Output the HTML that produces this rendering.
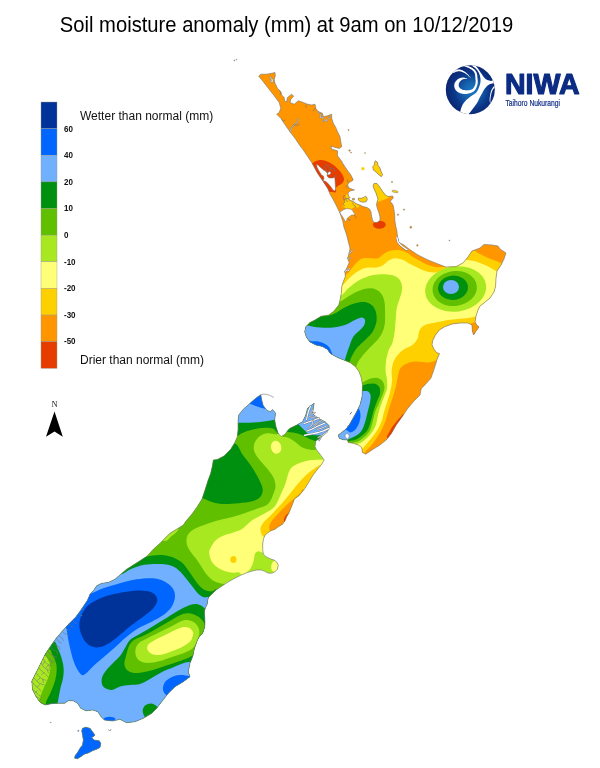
<!DOCTYPE html>
<html lang="en">
<head>
<meta charset="utf-8">
<title>Soil moisture anomaly (mm) at 9am on 10/12/2019</title>
<style>
html,body{margin:0;padding:0;background:#fff;}
body{width:600px;height:768px;overflow:hidden;font-family:"Liberation Sans",sans-serif;}
svg{display:block;}
text{font-family:"Liberation Sans",sans-serif;}
.lg{font-size:9.1px;font-weight:bold;fill:#111;}
.lt{font-size:12px;fill:#111;}
</style>
</head>
<body>
<svg width="600" height="768" viewBox="0 0 600 768">
<rect width="600" height="768" fill="#fff"/>
<!-- title -->
<text transform="translate(59.8,32.2) scale(0.9445,1)" font-size="21.4" fill="#000">Soil moisture anomaly (mm) at 9am on 10/12/2019</text>

<!-- legend -->
<g stroke="#9a9a88" stroke-width="0.4">
<rect x="41" y="102" width="16" height="26.63" fill="#003399"/>
<rect x="41" y="128.63" width="16" height="26.63" fill="#0066ff"/>
<rect x="41" y="155.26" width="16" height="26.63" fill="#70b0ff"/>
<rect x="41" y="181.89" width="16" height="26.63" fill="#009010"/>
<rect x="41" y="208.52" width="16" height="26.63" fill="#60c000"/>
<rect x="41" y="235.15" width="16" height="26.63" fill="#a8e820"/>
<rect x="41" y="261.78" width="16" height="26.63" fill="#ffff78"/>
<rect x="41" y="288.41" width="16" height="26.63" fill="#ffd000"/>
<rect x="41" y="315.04" width="16" height="26.63" fill="#ff9600"/>
<rect x="41" y="341.67" width="16" height="26.63" fill="#e63c00"/>
</g>
<text class="lg" transform="translate(64,131.5) scale(0.88,1)">60</text>
<text class="lg" transform="translate(64,158.1) scale(0.88,1)">40</text>
<text class="lg" transform="translate(64,184.70000000000002) scale(0.88,1)">20</text>
<text class="lg" transform="translate(64,211.3) scale(0.88,1)">10</text>
<text class="lg" transform="translate(64,237.9) scale(0.88,1)">0</text>
<text class="lg" transform="translate(64,264.59999999999997) scale(0.88,1)">-10</text>
<text class="lg" transform="translate(64,291.2) scale(0.88,1)">-20</text>
<text class="lg" transform="translate(64,317.79999999999995) scale(0.88,1)">-30</text>
<text class="lg" transform="translate(64,344.4) scale(0.88,1)">-50</text>
<text class="lt" x="80" y="120.3">Wetter than normal (mm)</text>
<text class="lt" x="80" y="363.6">Drier than normal (mm)</text>

<!-- north arrow -->
<text x="54.5" y="406.8" font-size="8.5" text-anchor="middle" fill="#222" style="font-family:'Liberation Serif',serif">N</text>
<path d="M54.5,411.5 L62.8,436.8 L54.5,431.5 L46,436.8Z" fill="#000"/>

<!-- NIWA logo -->
<defs>
<radialGradient id="lg1" cx="0.53" cy="0.52" r="0.52">
<stop offset="0" stop-color="#1a7ac8"/>
<stop offset="0.35" stop-color="#1560ac"/>
<stop offset="0.7" stop-color="#0c3688"/>
<stop offset="1" stop-color="#0a2670"/>
</radialGradient>
</defs>
<g id="logo">
<clipPath id="lc"><circle cx="470.3" cy="89.7" r="24.5"/></clipPath>
<circle cx="470.3" cy="89.7" r="24.5" fill="url(#lg1)"/>
<g clip-path="url(#lc)" fill="#fff">
<path d="M467.22,78.45 466.77,78.3 466.15,78.1 465.4,77.9 464.57,77.73 463.7,77.62 462.85,77.61 462.02,77.69 461.17,77.84 460.31,78.07 459.46,78.37 458.62,78.75 457.83,79.21 457.11,79.79 456.45,80.46 455.83,81.19 455.29,81.98 454.82,82.82 454.45,83.72 454.29,84.65 454.23,85.59 454.29,86.55 454.47,87.52 454.78,88.48 455.24,89.4 455.85,90.2 456.54,90.95 457.34,91.64 458.22,92.26 459.19,92.81 460.24,93.26 461.36,93.55 462.53,93.76 463.74,93.89 464.97,93.93 466.17,93.9 467.33,93.8 468.45,93.6 469.58,93.33 470.69,92.98 471.75,92.56 472.74,92.06 473.63,91.48 474.42,90.8 475.05,90.03 475.56,89.24 475.96,88.44 476.3,87.68 476.6,86.95 476.91,86.22 477.17,85.46 477.38,84.69 477.54,83.92 477.66,83.16 477.75,82.39 477.78,81.6 477.76,80.81 477.69,80.05 477.61,79.31 477.52,78.6 477.45,77.9 477.38,77.2 477.33,76.46 477.27,75.7 477.19,74.92 477.05,74.15 476.86,73.41 476.6,72.72 476.3,72.08 475.95,71.48 475.57,70.91 475.15,70.37 474.7,69.85 474.19,69.36 473.64,68.89 473.06,68.45 472.46,68.05 471.85,67.67 471.24,67.32 470.61,66.99 469.96,66.7 469.3,66.43 468.65,66.19 468,65.96 467.37,65.75 466.7,65.53 465.98,65.32 465.28,65.13 464.63,64.96 464.09,64.83 463.7,64.73 463.3,66.07 463.69,66.2 464.23,66.37 464.86,66.57 465.53,66.79 466.21,67.02 466.83,67.25 467.43,67.49 468.04,67.74 468.65,68 469.24,68.28 469.81,68.57 470.36,68.88 470.9,69.22 471.44,69.57 471.97,69.95 472.46,70.33 472.9,70.73 473.3,71.15 473.66,71.58 473.99,72.02 474.28,72.49 474.54,72.96 474.76,73.47 474.94,73.99 475.08,74.56 475.17,75.18 475.23,75.87 475.27,76.59 475.31,77.34 475.35,78.1 475.43,78.84 475.52,79.56 475.61,80.26 475.66,80.94 475.68,81.58 475.65,82.21 475.57,82.86 475.45,83.51 475.3,84.16 475.11,84.8 474.88,85.42 474.6,86.05 474.25,86.7 473.9,87.36 473.52,87.97 473.11,88.51 472.67,88.96 472.17,89.32 471.52,89.62 470.73,89.88 469.85,90.1 468.92,90.27 467.98,90.37 467.07,90.4 466.16,90.37 465.2,90.27 464.22,90.11 463.28,89.9 462.44,89.64 461.76,89.34 461.19,89.04 460.65,88.68 460.16,88.26 459.74,87.82 459.4,87.39 459.16,87 458.98,86.69 458.84,86.33 458.75,85.94 458.7,85.51 458.7,85.08 458.75,84.68 458.77,84.25 458.88,83.73 459.08,83.16 459.34,82.6 459.65,82.06 459.97,81.59 460.33,81.13 460.8,80.67 461.35,80.23 461.94,79.83 462.56,79.48 463.15,79.19 463.78,79 464.52,78.89 465.31,78.85 466.06,78.83 466.71,78.81 467.18,78.75Z"/>
<path d="M452.62,73.32 453.13,73.1 453.84,72.78 454.65,72.43 455.5,72.08 456.31,71.79 457,71.58 457.61,71.46 458.19,71.37 458.75,71.32 459.3,71.32 459.85,71.35 460.42,71.43 461.01,71.55 461.61,71.71 462.23,71.93 462.86,72.18 463.47,72.46 464.07,72.76 464.64,73.07 465.21,73.43 465.77,73.81 466.33,74.22 466.88,74.65 467.43,75.09 468,75.58 468.61,76.15 469.22,76.73 469.78,77.28 470.27,77.75 470.63,78.07 470.77,77.93 470.49,77.54 470.08,77.01 469.59,76.39 469.05,75.74 468.5,75.09 467.97,74.51 467.47,73.99 466.96,73.48 466.43,72.99 465.89,72.52 465.32,72.06 464.73,71.64 464.12,71.26 463.49,70.89 462.83,70.55 462.16,70.24 461.47,69.98 460.78,69.77 460.1,69.62 459.43,69.52 458.75,69.47 458.06,69.47 457.35,69.52 456.6,69.62 455.74,69.8 454.81,70.07 453.88,70.37 453.01,70.67 452.29,70.92 451.78,71.08Z"/>
<path d="M460.3,114.5C459.4,113.02 461.12,108.4 462,106.1C462.88,103.8 464.1,102.35 465.6,100.7C467.1,99.05 469.15,97.67 471,96.2C472.85,94.73 475.32,93.52 476.7,91.9C478.08,90.28 478.68,88.1 479.3,86.5C479.92,84.9 480.23,83.8 480.4,82.3C480.57,80.8 480.57,79.1 480.3,77.5C480.03,75.9 479.5,74.13 478.8,72.7C478.1,71.27 477.17,70.02 476.1,68.9C475.03,67.78 472.98,66.9 472.4,66C471.82,65.1 472.12,63.58 472.6,63.5C473.08,63.42 474.35,64.6 475.3,65.5C476.25,66.4 477.27,67.53 478.3,68.9C479.33,70.27 480.53,72.27 481.5,73.7C482.47,75.13 483.13,76.43 484.1,77.5C485.07,78.57 486.13,79.53 487.3,80.1C488.47,80.67 490.05,80.92 491.1,80.9C492.15,80.88 492.62,79.98 493.6,80C494.58,80.02 496.43,80.43 497,81C497.57,81.57 497.55,83.02 497,83.4C496.45,83.78 495.13,83.05 493.7,83.3C492.27,83.55 489.9,84 488.4,84.9C486.9,85.8 485.77,87.27 484.7,88.7C483.63,90.13 482.87,91.95 482,93.5C481.13,95.05 480.28,96.5 479.5,98C478.72,99.5 478.42,100.7 477.3,102.5C476.18,104.3 474.45,106.72 472.8,108.8C471.15,110.88 469.48,114.05 467.4,115C465.32,115.95 461.2,115.98 460.3,114.5Z"/>
<path d="M494.93,85.01 494.59,85.45 494.08,86.06 493.48,86.78 492.85,87.58 492.26,88.4 491.78,89.2 491.41,89.97 491.12,90.73 490.88,91.49 490.67,92.27 490.49,93.06 490.31,93.89 490.14,94.77 489.98,95.7 489.84,96.65 489.72,97.62 489.64,98.57 489.6,99.49 489.65,100.43 489.76,101.41 489.9,102.37 490.05,103.25 490.19,103.98 490.3,104.51 490.5,104.49 490.49,103.94 490.45,103.2 490.4,102.32 490.36,101.37 490.35,100.41 490.4,99.51 490.47,98.64 490.58,97.72 490.73,96.79 490.9,95.86 491.09,94.96 491.29,94.11 491.49,93.31 491.7,92.55 491.92,91.82 492.18,91.13 492.47,90.45 492.82,89.8 493.28,89.12 493.87,88.39 494.51,87.66 495.13,86.98 495.68,86.41 496.07,85.99Z"/>
</g>
</g>
<text x="505" y="94" font-size="29.7" font-weight="bold" fill="#0c2c84" textLength="74.5" lengthAdjust="spacingAndGlyphs" stroke="#0c2c84" stroke-width="1.2" stroke-linejoin="round">NIWA</text>
<text x="505.5" y="105.6" font-size="9.3" fill="#0c2c84" textLength="54.5" lengthAdjust="spacingAndGlyphs" stroke="#0c2c84" stroke-width="0.2">Taihoro Nukurangi</text>

<!-- map -->
<defs><clipPath id="land"><path d="M258.7,76.2 260.8,74.2 266.7,74.2 271.7,73.3 275,72.5 275.3,75.8 274.2,79.2 275,83.3 277.5,88.3 280.8,91.7 281.7,95 284.2,97.5 284.5,101 286.5,102 287.5,97.5 291.7,94.2 293.7,96.3 290.8,99.2 290,102.5 294.2,104.2 298.3,100.8 303.3,102.5 307.5,104.2 311.7,105 315,104.2 315.8,108.3 318.3,111.7 322.5,113.3 323.3,116.7 327.5,115.8 331.7,114.2 331.7,118.3 333.3,123.3 335.8,127.5 337.5,131.7 340,136.7 340.8,141.7 341.7,146.7 339.2,148.5 331,146.2 331.5,149 337.5,150.8 337.5,155.8 341.3,160.7 342.7,163.3 345.3,167.3 348,171.3 350.7,174.7 352,177.3 353.3,180 352,181 349,182.5 347.5,185 349,188 353,189.5 354.5,189.9 350,191 348,193 348.5,196 350,197.5 348.8,198.8 350,200.3 352,201 354,202 357,204 360,205 363,206.5 365,207 367,207.5 369.5,209 371,212 371.5,216 372.5,220 374,222.5 377,222.5 380,220.5 380,217 379,213 377.5,209 376.5,205 377,202 378,199 377,196 376,193 374.5,190 373,186 374,183.5 377,183.5 379,186 381,189 383,192 385.5,195 388,196.5 392.7,196 393.3,198 391.3,200 390,202 392,203.3 393.3,206 394,210 394.7,215.3 394.9,220.7 395.7,226 396.7,230 397.5,236.2 398.8,242.5 404,245 409,249 418,255 428,260 438,264 446,267 456,266.6 463,263 468,257 472,251 480,248 484,244.4 492,245 498,246 500,249 506,253 504,259 501,265 497,271 496,278 495.6,286 494,292 490,298 484,303 480,306 478,310 476,316 475,322 477,325.6 479,327 476,331 473.6,335 472.4,331 472,325 468,323 460,323 452,324 444.7,326.7 439.3,330 435.3,335.3 432.7,340.7 432,344.7 434,349.3 436.7,352.7 439.5,353.6 437.3,358.7 435.3,365.3 432.7,373.3 430.7,378.5 426.2,383.5 421.2,388.8 420,395 413.8,401.2 407.5,408.8 402.5,416.2 396.2,425 391.2,433.8 386.2,440 380,445 373.8,448.8 367.5,453 365.8,454.2 362.5,452.5 361.7,447.5 358.3,445 353.3,443.3 348.3,442.5 347.5,440 343.3,439.7 339.2,438.3 338.3,435 341.7,432.5 345.8,429.2 349.2,425 352.5,419.2 356.7,411.7 360,405 362,396.7 362.3,392 362.5,385 361.2,377.5 358.8,371.2 355,366.2 350,362.5 343.8,360 337.5,357.5 330.3,353.5 327.5,349.4 322.5,346.5 315.8,344.9 310,341.9 306.3,336.9 304.7,331.7 305.8,326.7 310,322.5 315,320 321.2,316.2 328.8,315 333.8,311.2 338.8,305 340,300 341.3,293.3 341.7,286.7 343.3,281.7 345.3,276.7 345,271.7 346.7,268.3 349.2,262.5 347.5,258.3 349.2,253.3 350,248.3 348.3,241.7 346.7,235 343.8,226.7 343,222 341,216 339.5,212 337.5,208 334,201 330,194 328,189 323.3,181.7 317.5,173.3 311.7,162.5 303.3,150 300,145.8 295,138.3 290,131.7 285.8,125.8 280.8,118.3 276.7,114.2 279.2,112.5 280.8,108.3 279.2,102.5 274.2,95.8 268.3,88.3 263.3,81.7Z M260.8,394.7 261.7,400 263.3,405.8 266.7,410 270,411.7 272.7,409.5 275.5,413.3 274.7,420 276,426.7 278.1,433.3 281.3,436.5 285,434.2 287.5,430.8 290,428.3 296.7,425 302.5,421.7 305.8,415 307.5,408.3 311.7,405 314.2,403.3 313.3,408.3 312.5,413.3 315.8,416.7 320,419.2 325,421.7 329.2,425.8 328.3,430 324.2,434.2 320,438.3 315.8,440.8 315,446.7 316.7,450 320,454.2 324.2,460 321.7,464.2 318.3,468.3 313.3,474.7 309.3,481.3 305,488.3 301.7,492.5 299.2,495.4 294.2,499.2 292.9,503.3 290.8,508.3 288.8,513.3 286.7,516.7 285,520.8 282.5,524.2 278.3,526.7 275,529.2 270.8,530.8 267.5,532.9 265,535.4 263.5,538.7 262.7,544 262.7,549.3 263.3,554 266,556.7 270,558.7 274,560 276.7,562 278.3,565.3 277.3,569.3 274.7,572 271.3,573.3 268,573.1 264.7,571.3 261.3,570 256.7,570 251.3,571.3 246,573.1 240.7,575.3 235.3,578 228,582 219,588 216,590 212,594 208.7,597.3 207.7,600 207.3,604 205.3,608 204.3,612 204.7,616.7 205,622 204.7,627.3 202.7,633.3 199.3,636.7 197.5,640 194.5,648 193,655.5 190,663.3 188.3,671.7 190,676.7 183.3,681.7 175,686.7 168.3,693.3 161.7,701.7 156.7,708.3 151.7,713.3 143.3,718.3 135,721.7 126.7,722.7 124.8,721.8 119.8,719.3 113,721 104.5,720.1 101.1,716.8 97.8,711.7 92.7,710 85.9,710.8 80.8,708.3 77.5,703.2 73.2,700.7 68.1,700.7 64.8,703.2 58.8,703.2 52.1,703.6 45.3,704.9 40.2,702.4 36,696.4 32.6,689.7 31.8,681.2 36,672.8 41.1,662.6 45.3,654.1 50.4,646.5 56.3,638.1 62.2,631.3 69,623.7 75.8,616.9 80.8,610.2 87.6,600 90,594.2 93.3,590.8 96.7,585.8 101.7,583.3 108.3,582.5 115,579.2 120.8,574.2 126.7,569.2 133.3,565 140,560.8 147.5,555.8 153.3,549.2 160,543.3 165,538.3 170,533.3 176.7,529.2 183.3,525 186,521 192,514 197,507 202,499 205,490 208,480.5 210.7,473.3 212.5,465.3 213.3,460 217.3,459.5 224,456 230.7,449.3 234.7,442.7 237.3,436.7 238,430 238,421.7 238.7,415 243.3,409.2 250,403.3 256.7,397.5Z M82.5,728.3 85.8,727.2 90,728.3 92.5,731.7 95,735 93.5,736.5 91.7,737.5 94.2,740 99.2,740.8 100.8,743.3 100,747.5 96.7,749.2 92.5,750.8 88.3,753 84.2,754.2 80.8,756.7 77.5,758.7 74.7,758.3 75,755.8 77.5,752.5 80,748.3 82.5,745 83.3,740 82.5,735 81.7,730.8Z M375.3,160.7 377.3,162 378,165.3 380,168 381.3,172 382.7,174.7 381.3,176.7 378.7,174.7 376,172 373.3,170 372.7,166.7 374.4,164.7 374.7,162ZM358.5,198 361,198.3 363.5,197.5 365.5,196.3 367,197.5 367.2,200 366,201.8 363,202.2 360,201.5 358.3,200ZM352.3,198.6 354.3,198.3 354.6,199.8 352.8,200.2Z"/></clipPath></defs>
<g clip-path="url(#land)">
<path fill="#ff9600" d="M250,60 520,60 520,460 330,460 330,300 250,300Z"/>
<path fill="#ffd000" d="M335,277C343.5,269.5 343,276.4 345.8,275C348.6,273.6 349.8,270.5 351.7,268.3C353.6,266.1 355.6,263.4 357.5,261.7C359.4,260 360.9,258.9 363.3,258.3C365.7,257.7 369.2,258.3 371.7,258.3C374.2,258.3 376.4,259 378.3,258.3C380.2,257.6 381.4,255.4 383.3,254.2C385.2,252.9 387.5,251.5 390,250.8C392.5,250.1 395.5,249.7 398.3,250C401.1,250.3 404.4,251.4 406.7,252.5C409,253.6 410.1,255.2 412,256.5C413.9,257.8 415.9,258.7 418.3,260C420.8,261.3 423.9,263.3 426.7,264.5C429.5,265.7 432.4,266.6 435,267C437.6,267.4 440.5,267.2 442.5,267C444.5,266.8 444.9,266.3 447,265.5C449.1,264.7 452.5,263.6 455,262C457.5,260.4 459.5,258.1 462,256C464.5,253.9 468.2,250.5 470,249.5C471.8,248.5 471.3,249.2 473,250C474.7,250.8 477.5,252.7 480,254C482.5,255.3 485.3,256.8 488,258C490.7,259.2 493.5,260.1 496,261C498.5,261.9 499,262.3 503,263.5C507,264.7 517.2,256.9 520,268C522.8,279.1 528.3,317.2 520,330C511.7,342.8 482,340.5 470,345C458,349.5 452.8,354.6 448,357C443.2,359.4 443,358.9 441,359.5C439,360.1 438.4,359.9 436.2,360.4C434.1,360.9 431,362.3 427.9,362.5C424.8,362.7 420.6,361.5 417.5,361.5C414.4,361.5 412,361.5 409.2,362.5C406.4,363.5 402.7,365.4 400.8,367.7C398.9,369.9 398.8,372.8 398,376C397.2,379.2 396.6,383.5 395.8,386.7C395.1,389.9 394.3,392.2 393.5,395C392.7,397.8 391.7,400.5 390.8,403.3C389.9,406.1 388.8,409.2 388,412C387.2,414.8 386.8,417.2 385.8,420C384.8,422.8 383.4,426.2 382,429C380.6,431.8 379.2,434 377.5,436.7C375.8,439.4 373.6,442.6 371.7,445C369.8,447.4 368.3,448.6 366,450.8C363.7,453 364,456.5 358,458C352,459.5 339.7,469.7 330,460C320.3,450.3 305.8,423.3 300,400C294.2,376.7 289.2,340.5 295,320C300.8,299.5 326.5,284.5 335,277Z"/>
<path fill="#ffff78" d="M333,287C340.9,281.2 339.9,286.3 342.5,285C345.1,283.7 346.2,281.1 348.3,279.2C350.4,277.2 352.8,275 355,273.3C357.2,271.6 359.5,270.2 361.7,269.2C363.9,268.2 365.8,267.8 368.3,267.5C370.8,267.2 374.2,267.9 376.7,267.5C379.2,267.1 381.4,266.1 383.3,265C385.2,263.9 386.4,261.9 388.3,260.8C390.2,259.7 392.5,258.4 395,258.3C397.5,258.2 400.6,259 403.3,260C406,261 408.5,263.2 411,264.5C413.5,265.8 415.7,266.8 418.3,268C420.9,269.2 423.9,270.8 426.7,271.5C429.5,272.2 432.6,272.6 435,272.5C437.4,272.4 439.1,271.8 441,271C442.9,270.2 444.2,269.6 446.5,267.6C448.8,265.6 451.6,260.3 455,259C458.4,257.7 463.8,259.7 467,260C470.2,260.3 471.5,260.4 474,261C476.5,261.6 479.3,262.7 482,263.8C484.7,264.9 487.4,266.2 490,267.5C492.6,268.8 494.2,270.3 497.5,271.7C500.8,273.1 507.1,271.3 510,276C512.9,280.7 518.3,293.7 515,300C511.7,306.3 496.6,311.3 490,314C483.4,316.7 479.3,315.7 475.6,316.4C471.9,317.1 470.9,317.6 468,318C465.1,318.4 461.3,318.7 458,319C454.7,319.3 451.3,319.5 448,320C444.7,320.5 441.3,321.3 438,322C434.7,322.7 430.7,323.2 428,324C425.3,324.8 423.5,325.7 422,327C420.5,328.3 419.8,330 419,332C418.2,334 418.6,336.6 417.5,338.8C416.4,340.9 414.6,343.3 412.5,345C410.4,346.7 407.3,347.3 405,348.8C402.7,350.2 400.6,351.7 398.8,353.8C396.9,355.8 394.9,358.5 393.8,361.2C392.6,364 392,366.9 391.7,370C391.4,373.1 392.1,377 392,380C391.9,383 391.5,385.3 391,388C390.5,390.7 389.7,393.4 389,396C388.3,398.6 387.5,400.6 386.7,403.3C385.9,406 384.8,409.2 384,412C383.2,414.8 383,417.2 382,420C381,422.8 379.6,426.2 378,429C376.4,431.8 374.4,434.2 372.5,436.7C370.6,439.2 368.2,442 366.5,444C364.8,446 364.6,446.5 362.5,448.5C360.4,450.5 359.4,454.9 354,456C348.6,457.1 339,464.3 330,455C321,445.7 305.8,422.5 300,400C294.2,377.5 289.5,338.8 295,320C300.5,301.2 325.1,292.8 333,287Z"/>
<path fill="#a8e820" d="M332,297C339.8,292.8 339,296.4 341.7,295C344.4,293.6 345.8,290.5 348.3,288.3C350.8,286.1 353.9,283.5 356.7,281.7C359.5,279.9 362.2,278.6 365,277.5C367.8,276.4 370.2,275.6 373.3,275C376.4,274.4 380.2,274.2 383.3,274.2C386.4,274.2 389.2,274.3 391.7,275C394.2,275.7 396.6,276.8 398.3,278.3C400,279.8 401.1,282 401.7,284.2C402.3,286.4 402.1,289.1 401.7,291.7C401.3,294.3 400,297.2 399.2,300C398.4,302.8 397.3,305.2 396.7,308.3C396.1,311.4 396.1,315 395.8,318.3C395.5,321.6 395.3,325.4 395,328.3C394.7,331.2 394.5,333.4 394,336C393.5,338.6 392.9,341.7 392,344C391.1,346.3 389.7,347.3 388.8,350C387.8,352.7 386.8,356.7 386.2,360C385.7,363.3 385.4,366.7 385.5,370C385.6,373.3 386.8,376.9 387,380C387.2,383.1 387.5,385.8 387,388.8C386.5,391.7 384.8,394.6 383.8,397.5C382.7,400.4 381.5,403.3 380.5,406.2C379.5,409.2 378.8,411.9 378,415C377.2,418.1 376.8,422.1 375.8,425C374.8,427.9 373.4,430.2 371.8,432.5C370.2,434.8 368,437.1 366.2,438.8C364.5,440.4 362.8,441.5 361.2,442.5C359.7,443.5 358.9,442.9 357,444.5C355.1,446.1 355.3,451.1 350,452C344.7,452.9 333.3,458.7 325,450C316.7,441.3 305,421.7 300,400C295,378.3 289.7,337.2 295,320C300.3,302.8 324.2,301.2 332,297Z"/>
<ellipse cx="455.7" cy="289" rx="30.7" ry="22.6" fill="#a8e820" transform="rotate(-8 455.7 289)"/>
<path fill="#60c000" d="M331,304C337.7,302.6 337.4,302.8 340,301.7C342.6,300.6 344.2,299 346.7,297.5C349.2,296 352.2,293.9 355,292.5C357.8,291.1 360.5,289.9 363.3,289.2C366.1,288.5 369.2,288 371.7,288.3C374.2,288.6 376.5,289.6 378.3,290.8C380.1,292.1 381.4,293.7 382.5,295.8C383.6,297.9 384.3,300.7 384.7,303.3C385.1,305.9 384.9,308.6 385,311.7C385.1,314.8 385.3,318.6 385,321.7C384.7,324.8 384.3,327.3 383.3,330C382.3,332.7 381.1,335.2 379,338C376.9,340.8 373.6,343.8 371,346.5C368.4,349.2 365.7,351.9 363.5,354.5C361.3,357.1 359.4,359.8 358,362C356.6,364.2 357.2,366.3 355,368C352.8,369.7 350.8,373.3 345,372C339.2,370.7 328.3,366.2 320,360C311.7,353.8 298.3,343.3 295,335C291.7,326.7 294,315.2 300,310C306,304.8 324.3,305.4 331,304Z"/>
<path fill="#60c000" d="M355,384C358.8,379.4 360,383.4 362.5,382.5C365,381.6 367.5,379.5 370,378.8C372.5,378 375.4,377.6 377.5,378C379.6,378.4 381.3,379.7 382.5,381.2C383.7,382.8 384.5,385.2 384.5,387.5C384.5,389.8 383.5,392.3 382.5,395C381.5,397.7 380,400.8 378.8,403.8C377.5,406.7 376,409.4 375,412.5C374,415.6 373.4,419.4 372.5,422.5C371.6,425.6 371,428.8 369.5,431.2C368,433.8 365.8,435.8 363.8,437.5C361.8,439.2 359.4,440.8 357.5,441.8C355.6,442.7 354.6,442 352.5,443C350.4,444 349.6,448.5 345,448C340.4,447.5 325.8,446.3 325,440C324.2,433.7 335,419.3 340,410C345,400.7 351.2,388.6 355,384Z"/>
<ellipse cx="454.7" cy="288.5" rx="22.3" ry="17.5" fill="#60c000" transform="rotate(-8 454.7 288.5)"/>
<path fill="#009010" d="M326,316C331.8,315.2 332.4,314.4 335,313.3C337.6,312.2 339.2,310.6 341.7,309.2C344.2,307.8 347.2,306.1 350,305C352.8,303.9 355.5,302.9 358.3,302.5C361.1,302.1 364.3,301.9 366.7,302.5C369.1,303.1 371,304.3 372.5,305.8C374,307.3 375.1,309.5 375.8,311.7C376.5,313.9 376.8,316.7 376.7,319.2C376.6,321.7 375.9,324.2 375,326.7C374.1,329.2 372.9,331.6 371,334C369.1,336.4 366.2,338.8 363.8,341.2C361.3,343.7 358.3,346 356.2,348.8C354.2,351.5 352.5,355.1 351.2,357.5C350,359.9 350.6,361.2 348.8,363C346.9,364.8 345.6,369.3 340,368C334.4,366.7 322.5,360.5 315,355C307.5,349.5 297.5,341.2 295,335C292.5,328.8 294.8,321.2 300,318C305.2,314.8 320.2,316.8 326,316Z"/>
<path fill="#009010" d="M355,387C358.8,382.9 360.2,386 362.5,385.5C364.8,385 366.7,384 368.8,383.8C370.8,383.5 373.2,383.1 375,383.8C376.8,384.4 378.7,385.8 379.5,387.5C380.3,389.2 380.4,391.5 380,393.8C379.6,396 378,398.5 377,401.2C376,404 374.7,406.9 373.8,410C372.8,413.1 372.3,416.7 371.2,420C370.2,423.3 369.2,427.3 367.5,430C365.8,432.7 363.3,434.6 361.2,436.2C359.2,437.9 357.1,439.2 355,440C352.9,440.8 351.2,440.2 348.8,441.2C346.2,442.2 344,446.5 340,446C336,445.5 325,444 325,438C325,432 335,418.5 340,410C345,401.5 351.2,391.1 355,387Z"/>
<ellipse cx="453" cy="287.8" rx="15" ry="12.2" fill="#009010" transform="rotate(-5 453 287.8)"/>
<path fill="#70b0ff" d="M300,323C302.1,320.6 304.2,324.8 307.5,325.5C310.8,326.2 315.7,327.2 320,327.5C324.3,327.8 329.1,327.9 333.3,327.5C337.5,327.1 341.4,326.2 345,325C348.6,323.8 352.2,321.2 355,320C357.8,318.8 360,317.5 361.7,317.5C363.4,317.5 364.6,318.8 365,320C365.4,321.2 365,323.3 364.2,325C363.4,326.7 361.8,328.1 360,330C358.2,331.9 355.1,333.9 353.3,336.7C351.5,339.5 350.4,343.4 349.2,346.7C347.9,350 346.7,354.1 345.8,356.7C344.9,359.2 345.3,360.1 344,362C342.7,363.9 342.8,369.2 338,368C333.2,366.8 322.2,359.7 315,355C307.8,350.3 297.5,345.3 295,340C292.5,334.7 297.9,325.4 300,323Z"/>
<path fill="#70b0ff" d="M354,392C357.7,388.9 359.8,391.4 362,391.2C364.2,391.1 366.1,390.6 367.5,391.2C368.9,391.9 370.1,393.1 370.5,395C370.9,396.9 370.5,399.6 370,402.5C369.5,405.4 368.3,409.2 367.5,412.5C366.7,415.8 366,419.4 365,422.5C364,425.6 362.9,429 361.2,431.2C359.6,433.5 357.3,434.9 355,436.2C352.7,437.6 350,438.7 347.5,439.5C345,440.3 343.2,440.9 340,441C336.8,441.1 328,445.2 328,440C328,434.8 335.7,418 340,410C344.3,402 350.3,395.1 354,392Z"/>
<ellipse cx="451" cy="287" rx="8" ry="7" fill="#70b0ff"/>
<path fill="#0066ff" d="M304,338C304.5,336.9 308.4,340.5 310.8,341.1C313.2,341.7 315.9,341 318.3,341.5C320.7,342 323.2,343 325,344C326.8,345 328.2,346.1 329.2,347.3C330.2,348.5 330.5,349.6 331,351C331.5,352.4 333.5,355.2 332,356C330.5,356.8 326,357.3 322,356C318,354.7 311,351 308,348C305,345 303.5,339.1 304,338Z"/>
<path fill="#0066ff" d="M350,404C352.7,402.5 354.7,405.2 356.2,406.2C357.8,407.2 358.8,408.3 359.5,410C360.2,411.7 360.6,414 360.5,416.2C360.4,418.5 359.7,421.5 358.8,423.8C357.8,426 356.5,428.5 355,430C353.5,431.5 351.5,432.5 350,432.5C348.5,432.5 348.2,430.1 346.2,430C344.2,429.9 339,434.5 338,432C337,429.5 338,419.7 340,415C342,410.3 347.3,405.5 350,404Z"/>
<path fill="#e63c00" d="M309,164C308.6,161.5 311.3,163.5 312.5,163C313.7,162.5 314.6,161.5 316,161C317.4,160.5 319.3,160 321,160C322.7,160 324.2,160.3 326,161C327.8,161.7 330,162.7 332,164C334,165.3 336.3,167.3 338,169C339.7,170.7 341,172.3 342,174C343,175.7 343.9,177.5 344,179C344.1,180.5 343.5,181.8 342.5,183C341.5,184.2 339.1,185.2 338,186C336.9,186.8 336.3,187 336,188C335.7,189 336.7,191.3 336,192C335.3,192.7 333.8,192.3 332,192C330.2,191.7 327.8,192.3 325,190C322.2,187.7 317.7,182.3 315,178C312.3,173.7 309.4,166.5 309,164Z"/>
<ellipse cx="379.3" cy="224.7" rx="6.4" ry="4" fill="#e63c00"/>
<path fill="#e63c00" d="M404,414C402.4,413.5 401.8,415.8 400.5,417C399.2,418.2 397.8,419.9 396.5,421.5C395.2,423.1 393.7,424.8 392.5,426.5C391.3,428.2 390.2,430.2 389.3,432C388.4,433.8 386.6,436 387,437.5C387.4,439 388.2,443.9 392,441C395.8,438.1 408,424.5 410,420C412,415.5 405.6,414.5 404,414Z"/>
<path fill="#ffd000" d="M346,194.5 348.5,194.5 348.5,200.5 350.5,201 354,202.5 357,204.5 359.5,205.5 358.5,207.5 354,207.5 351,209 347,208.5 343.5,207 343,204 344.5,201 346,199Z"/>
<path fill="#ffd000" d="M358.5,198 361,198.3 363.5,197.5 365.5,196.3 367,197.5 367.2,200 366,201.8 363,202.2 360,201.5 358.3,200ZM352.3,198.6 354.3,198.3 354.6,199.8 352.8,200.2Z"/>
<path fill="#ffd000" d="M370,180 396,180 396,195 390,196.8 386,199 382,200.5 378,202 370,204Z"/>
<path fill="#ffd000" d="M375.3,160.7 377.3,162 378,165.3 380,168 381.3,172 382.7,174.7 381.3,176.7 378.7,174.7 376,172 373.3,170 372.7,166.7 374.4,164.7 374.7,162Z"/>
<path fill="#ff9600" d="M471,323.5 480,321 482,336 470,337Z"/>
<path fill="#a8e820" d="M20,390 335,390 335,600 230,768 20,768Z"/>
<path fill="#60c000" d="M283,430C281.8,433.6 281.6,435.3 282.5,436.6C283.4,437.9 286.4,437 288.3,437.8C290.2,438.6 292.2,440 294.2,441.3C296.1,442.6 298.1,444.6 300,445.9C301.9,447.1 303.9,448.1 305.8,448.8C307.8,449.5 309.9,449.9 311.7,450C313.4,450.1 314.6,449.6 316.3,449.4C318,449.2 319.4,449.1 322,449C324.6,448.9 329.8,453.8 332,449C334.2,444.2 338.7,428.5 335,420C331.3,411.5 317.5,398.8 310,398C302.5,397.2 294.5,409.7 290,415C285.5,420.3 284.2,426.4 283,430Z"/>
<path fill="#60c000" d="M279,428C280.2,436.2 279.1,433.2 277.3,434.1C275.5,435 270.9,433 268,433.3C265.1,433.6 262.2,434.4 260,436C257.8,437.6 255.7,440.2 254.7,442.7C253.7,445.1 253.4,448 254.1,450.7C254.8,453.4 256.6,455.8 258.7,458.7C260.8,461.6 264.3,464.9 266.7,468C269.1,471.1 271.8,474.2 273.3,477.3C274.8,480.4 275.6,483.8 275.5,486.7C275.4,489.6 273.8,492.7 273,495C272.2,497.3 271.6,498.8 270.5,500.5C269.4,502.2 268.7,503.7 266.7,505C264.7,506.3 261.1,507.3 258.3,508.3C255.5,509.3 252.8,510.3 250,511.2C247.2,512.2 244.5,513.3 241.7,514.2C238.9,515.1 236.1,515.9 233.3,516.7C230.5,517.5 228.2,518 225,518.8C221.8,519.5 217.5,520.5 214,521.5C210.5,522.5 207.4,523.7 204,525C200.6,526.3 196.2,527.8 193.5,529.5C190.8,531.2 188.7,533.2 187.5,535.5C186.3,537.8 186.4,540.8 186.6,543C186.8,545.2 187.7,546.8 188.5,548.5C189.3,550.2 190.5,551.6 191.5,553C192.5,554.4 193.5,555.4 194.7,557C195.9,558.6 197.4,560.5 198.7,562.5C200,564.5 201.3,566.6 202.7,568.7C204.1,570.8 205.5,573.3 207.3,575.3C209.1,577.3 211.2,579.4 213.3,580.7C215.4,582 218.1,582.7 220,583.3C221.9,583.9 222.5,583.6 224.5,584.2C226.5,584.8 231.1,581 232,587C232.9,593 232.8,601.2 230,620C227.2,638.8 228.3,675.3 215,700C201.7,724.7 182.5,756.7 150,768C117.5,779.3 41.7,796 20,768C-1.7,740 -1.7,641.3 20,600C41.7,558.7 115.8,553.3 150,520C184.2,486.7 205,422.5 225,400C245,377.5 261,380.3 270,385C279,389.7 277.8,419.8 279,428Z"/>
<path fill="#009010" d="M225,420C232.8,415.3 265.2,410.7 275,412C284.8,413.3 283.2,424.3 284,428C284.8,431.7 280.8,433.4 279.5,434C278.2,434.6 277.3,432.6 276.3,431.7C275.3,430.8 274.9,429.3 273.3,428.7C271.7,428.1 269.5,427.8 266.7,427.8C263.9,427.8 259.8,428.2 256.7,428.7C253.6,429.2 250.8,430 248.3,430.8C245.8,431.6 243.4,432.5 241.7,433.3C240,434.1 240.3,434.7 238,435.8C235.7,436.9 230.2,442.6 228,440C225.8,437.4 217.2,424.7 225,420Z"/>
<path fill="#009010" d="M228,447C234,442.7 233.6,442.7 236,444C238.4,445.3 240.2,451.1 242.7,454.7C245.1,458.2 248,461.3 250.7,465.3C253.4,469.3 256.7,474.7 258.7,478.7C260.7,482.7 262.5,486.2 262.7,489.3C262.9,492.4 261.8,495.3 260,497.3C258.2,499.3 255.6,500.3 252,501.3C248.4,502.3 243.6,502.8 238.7,503.2C233.8,503.6 227.1,504.2 222.7,504C218.2,503.8 215.1,503 212,502.1C208.9,501.2 206.8,499.6 204,498.7C201.2,497.8 195.7,501.8 195,497C194.3,492.2 194.5,478.3 200,470C205.5,461.7 222,451.3 228,447Z"/>
<path fill="#009010" d="M138,560C144.2,557.8 143.5,557.3 147,556.5C150.5,555.7 155.5,555.1 159,555C162.5,554.9 165.2,555.4 168,556C170.8,556.6 173.6,557.5 176,558.7C178.4,559.9 180.7,561.4 182.7,563.3C184.7,565.2 186.3,567.8 188,570C189.7,572.2 191.1,574.5 192.7,576.7C194.2,578.9 195.6,581.3 197.3,583.3C199,585.3 200.7,587.4 202.7,588.7C204.7,590 207.5,591 209.3,591.3C211.1,591.6 212,591.1 213.3,590.7C214.6,590.3 214.9,588.8 217,589C219.1,589.2 224.7,583.5 226,592C227.3,600.5 227.7,622 225,640C222.3,658 222.5,678.7 210,700C197.5,721.3 181.7,756.7 150,768C118.3,779.3 41.7,789.3 20,768C-1.7,746.7 5,673 20,640C35,607 90.3,583.3 110,570C129.7,556.7 131.8,562.2 138,560Z"/>
<path fill="#009010" d="M286,427C285.2,429.8 286.3,430.8 287.5,431.7C288.7,432.6 291.2,432.1 293.3,432.5C295.4,432.9 297.8,433.4 300,434.2C302.2,435 304.6,436.5 306.7,437.5C308.8,438.5 310.6,439.4 312.5,440C314.4,440.6 314.8,441.3 318,441C321.2,440.7 329.2,442.3 332,438C334.8,433.7 338.7,421.7 335,415C331.3,408.3 317.2,398 310,398C302.8,398 296,410.2 292,415C288,419.8 286.8,424.2 286,427Z"/>
<path fill="#70b0ff" d="M225,422.7 238.1,422.7 249.3,422.7 260,422.1 270.7,420.5 275.2,419.5 285,418 285,390 240,388 225,410Z"/>
<path fill="#70b0ff" d="M296,422C294.9,426.4 296.9,422.9 298.3,424.2C299.7,425.5 302.4,428.3 304.2,430C306,431.7 307.1,433.3 309.2,434.2C311.3,435.1 314.3,435.2 316.7,435.3C319.1,435.4 321.5,435.2 323.3,434.5C325.1,433.8 325.9,432.1 327.5,431C329.1,429.9 332.1,433.2 333,428C333.9,422.8 337.7,405 333,400C328.3,395 311.2,394.3 305,398C298.8,401.7 297.1,417.6 296,422Z"/>
<path fill="#70b0ff" d="M122,574C126.8,572.3 125.8,571.4 129,570C132.2,568.6 137,566.5 141,565.5C145,564.5 149.8,564.2 153,564C156.2,563.8 157.5,563.9 160,564C162.5,564.1 165.6,564.2 168,564.7C170.4,565.2 172.5,566 174.7,567.3C176.9,568.6 179.3,570.7 181.3,572.7C183.3,574.7 184.9,577.1 186.7,579.3C188.5,581.5 190.4,584 192,586C193.6,588 194.7,589.8 196,591.3C197.3,592.8 198.7,594.3 200,595.3C201.3,596.3 202.6,597 204,597.3C205.4,597.6 206.5,596.9 208.5,597.2C210.5,597.5 213.8,591.9 216,599C218.2,606.1 223,623.2 222,640C221,656.8 222,678.7 210,700C198,721.3 181.7,756.7 150,768C118.3,779.3 41.7,787.7 20,768C-1.7,748.3 6.7,681.3 20,650C33.3,618.7 83,592.7 100,580C117,567.3 117.2,575.7 122,574Z"/>
<path fill="#0066ff" d="M262,393 256.7,397.5 248,402.7 250,403.7 255,405.8 260,407.5 263,408.3 266,409 266,398Z"/>
<path fill="#0066ff" d="M85,594C88.3,592 88.7,594.2 91.7,593.3C94.8,592.3 98.6,590 103.3,588.3C108,586.6 114.4,584.8 120,583.3C125.6,581.8 131.1,580.1 136.7,579.3C142.2,578.5 148.6,577.9 153.3,578.3C158,578.7 161.8,580 165,581.7C168.2,583.4 171,585.8 172.7,588.3C174.4,590.8 175.2,593.6 175,596.7C174.8,599.8 173.6,603.7 171.7,606.7C169.8,609.8 166.6,612.5 163.3,615C160,617.5 155.9,619.5 151.7,621.7C147.5,623.9 142.5,625.8 138.3,628.3C134.1,630.8 130.4,633.7 126.7,636.7C123,639.7 119.6,643.3 116,646.5C112.4,649.7 108.5,653 105,656C101.5,659 97.9,661.9 95,664.5C92.1,667.1 89.7,670.1 87.6,671.9C85.5,673.7 84,675.4 82.5,675.3C81,675.2 79.7,673.2 78.3,671.1C76.9,669 75.4,666 74.1,662.6C72.8,659.2 71.7,654.8 70.7,650.8C69.7,646.8 68.8,642.6 68.1,638.9C67.4,635.2 67.2,631.6 66.5,628.8C65.8,626 63.1,626 64,622C64.9,618 68.5,609.7 72,605C75.5,600.3 81.7,596 85,594Z"/>
<path fill="#003399" d="M86.7,606.7C89.4,603.9 92.8,602 96.7,600C100.6,598 105,596.4 110,595C115,593.6 121.2,592.4 126.7,591.7C132.2,591 138.9,590.4 143.3,590.7C147.7,591 151,591.8 153.3,593.3C155.6,594.8 157.3,597.5 157.3,600C157.3,602.5 155.6,605.5 153.3,608.3C151,611.1 146.9,613.9 143.3,616.7C139.7,619.5 135.4,622.1 131.7,625C128,627.9 124.1,631.4 121,634C117.9,636.6 115.8,638.6 113,640.6C110.2,642.6 107.3,644.6 104.5,645.7C101.7,646.8 98.8,647.5 96.1,647.4C93.4,647.2 90.8,646.5 88.5,644.8C86.2,643.1 84,640.2 82.5,637.2C81,634.2 79.8,630.5 79.5,627.1C79.2,623.7 79.6,620.3 80.8,616.9C82,613.5 84,609.5 86.7,606.7Z"/>
<path fill="#0066ff" d="M192,677C191.2,675.7 191,676.3 189,676C187,675.7 182.8,674.8 180,675C177.2,675.2 174.5,675.8 172,677C169.5,678.2 166.5,680 165,682C163.5,684 163,687 163,689C163,691 164,692.9 165,694C166,695.1 167.2,695.5 169,695.5C170.8,695.5 171.8,695.9 176,694C180.2,692.1 191.3,686.8 194,684C196.7,681.2 192.8,678.3 192,677Z"/>
<ellipse cx="109.5" cy="719" rx="6" ry="2.2" fill="#0066ff"/>
<path fill="#a8e820" d="M178.5,529C178.5,530.1 176.2,532.2 175,533.5C173.8,534.8 172.3,535.3 171,536.5C169.7,537.7 168.3,539.9 167,540.5C165.7,541.1 162.8,541.2 163,540C163.2,538.8 166,535.2 168,533C170,530.8 173.2,527.7 175,527C176.8,526.3 178.5,527.9 178.5,529Z"/>
<path fill="#009010" d="M212,608C210.3,604.4 206.4,608.5 205,608.3C203.6,608.1 204.1,607.5 203.3,607C202.5,606.5 201.3,605.5 200,605C198.7,604.5 196.9,604 195.3,604C193.8,604 192.4,604.2 190.7,604.7C189,605.2 187.1,606.2 185.3,607C183.5,607.8 181.6,608.9 180,609.7C178.4,610.5 178.7,610.4 176,612C173.3,613.6 168.3,616.8 164,619.5C159.7,622.2 154.3,625.4 150,628C145.7,630.6 141.3,633 138,635C134.7,637 132.2,637.8 130,640C127.8,642.2 126.7,645.3 125,648C123.3,650.7 122.2,653.3 120,656C117.8,658.7 114.5,661.3 112,664C109.5,666.7 106.7,669.5 105,672C103.3,674.5 102,676.5 101.7,679C101.4,681.5 101.6,684.9 103.3,686.7C105,688.5 108.9,690 111.7,690C114.5,690 117,687.3 120,686.5C123,685.7 126.7,685.4 130,685C133.3,684.6 136.7,685 140,684C143.3,683 146.3,681 150,679C153.7,677 158,674 162,672C166,670 170.3,668.5 174,667C177.7,665.5 181.5,663.8 184,663C186.5,662.2 186.7,662.3 189,662C191.3,661.7 193.7,666.3 198,661C202.3,655.7 212.7,638.8 215,630C217.3,621.2 213.7,611.6 212,608Z"/>
<path fill="#60c000" d="M210,624C208.8,622.4 205.8,625.5 204.8,625.3C203.8,625.1 204.6,623.7 204,622.7C203.4,621.7 202.4,620.4 201.3,619.3C200.2,618.2 198.9,616.9 197.3,616C195.8,615.1 193.8,614.2 192,613.7C190.2,613.2 188.7,613 186.7,613.3C184.7,613.6 183.1,613.8 180,615.3C176.9,616.8 172,619.7 168,622C164,624.3 160,626.8 156,629C152,631.2 147.7,633.7 144,635.5C140.3,637.3 136.5,638.2 134,640C131.5,641.8 130.3,643.3 129,646C127.7,648.7 126.8,653 126,656C125.2,659 124.2,661.7 124.4,664C124.6,666.3 125.4,668.5 127,670C128.6,671.5 131.2,672.7 134,673C136.8,673.3 140.3,672.7 144,672C147.7,671.3 152,670.2 156,669C160,667.8 164,666.3 168,665C172,663.7 176.3,662.3 180,661C183.7,659.7 187.7,658.1 190,657C192.3,655.9 192,655.3 194,654.5C196,653.7 199,655.2 202,652C205,648.8 210.7,639.7 212,635C213.3,630.3 211.2,625.6 210,624Z"/>
<path fill="#a8e820" d="M199.3,631.3C199.2,630 199,628.6 198.3,627.3C197.6,626 196.6,624.4 195.3,623.3C194,622.2 192.4,621.2 190.7,620.7C189,620.2 187.1,619.8 185.3,620C183.5,620.2 182.9,620.4 180,621.7C177.1,623 172,626 168,628C164,630 159.7,632.2 156,634C152.3,635.8 148.8,637.5 146,639C143.2,640.5 140.7,641.3 139,643C137.3,644.7 136.1,646.8 135.6,649C135.1,651.2 135.3,654 136,656C136.7,658 138,659.8 140,661C142,662.2 144.7,663 148,663C151.3,663 156,662 160,661C164,660 168,658.3 172,657C176,655.7 180.5,654.5 184,653C187.5,651.5 190.8,650 193,648C195.2,646 196,643.1 197,641C198,638.9 198.6,636.9 199,635.3C199.4,633.7 199.4,632.6 199.3,631.3Z"/>
<path fill="#ffff78" d="M193.3,634C193.3,632.9 193,631.7 192.3,630.7C191.6,629.7 190.6,628.6 189.3,628C188,627.4 186.2,627 184.7,627C183.1,627 182.1,627.2 180,628C177.9,628.8 174.7,630.2 172,631.5C169.3,632.8 167,634 164,635.5C161,637 156.7,638.9 154,640.5C151.3,642.1 149.1,643.4 148,645C146.9,646.6 146.9,648.5 147.6,650C148.3,651.5 149.9,653.2 152,654C154.1,654.8 157,655.3 160,655C163,654.7 166.7,653.2 170,652C173.3,650.8 177.2,649.3 180,648C182.8,646.7 185.2,645.2 187,644C188.8,642.8 190.1,641.6 191,640.5C191.9,639.4 191.9,638.4 192.3,637.3C192.7,636.2 193.3,635.1 193.3,634Z"/>
<path fill="#009010" d="M143,713C142.1,710.3 143.2,707.6 144.5,706C145.8,704.4 148.9,703.4 151,703.5C153.1,703.6 155.5,705.1 157,706.5C158.5,707.9 161.2,709.4 160,712C158.8,714.6 152.8,721.8 150,722C147.2,722.2 143.9,715.7 143,713Z"/>
<path fill="#009010" d="M53.8,641.5C56.8,642.2 56.7,646.3 58,649C59.3,651.7 60.5,654.4 61.4,657.5C62.3,660.6 63.3,664.3 63.6,667.7C63.9,671.1 63.6,674.4 63.1,677.8C62.6,681.2 61.2,684.9 60.5,688C59.8,691.1 59.3,693.8 58.8,696.4C58.3,699 58.1,701.2 57.5,703.5C56.9,705.8 59.6,708.6 55,710C50.4,711.4 35.8,717 30,712C24.2,707 18.3,691.2 20,680C21.7,668.8 34.4,651.4 40,645C45.6,638.6 50.8,640.8 53.8,641.5Z"/>
<path fill="#60c000" d="M48.7,649C51.2,649.1 51.6,653.2 52.9,655.8C54.2,658.3 55.7,661.2 56.3,664.3C56.9,667.4 56.7,671 56.3,674.4C55.9,677.8 54.8,681.5 53.8,684.6C52.8,687.7 51.7,690.2 50.4,693C49.1,695.8 47.3,699 46.2,701.5C45.1,704 47,707.2 44,708C41,708.8 32,710.7 28,706C24,701.3 18.3,688.5 20,680C21.7,671.5 33.2,660.2 38,655C42.8,649.8 46.2,648.9 48.7,649Z"/>
<path fill="#a8e820" d="M44.5,655.8C46.6,655.6 47.7,658.9 48.7,660.9C49.7,662.9 50.4,665.2 50.4,667.7C50.4,670.2 49.6,673.3 48.7,676.1C47.9,678.9 46.4,681.9 45.3,684.6C44.2,687.3 42.9,689.7 41.9,692.2C40.9,694.7 40.4,697.8 39.4,699.8C38.4,701.8 38.2,704 36,704C33.8,704 28.3,704 26,700C23.7,696 20.3,686.3 22,680C23.7,673.7 32.2,666 36,662C39.8,658 42.4,656 44.5,655.8Z"/>
<path fill="#ffff78" d="M330,458C328.2,454.6 325.7,459.4 324,459.7C322.3,460 322.1,459.6 320,459.7C317.9,459.8 314.5,459.7 311.7,460C308.9,460.3 305.8,461 303.3,461.7C300.8,462.4 298.6,463.2 296.7,464.2C294.8,465.2 293.1,466 291.7,467.5C290.3,469 289.6,470.2 288.5,473C287.4,475.8 286.6,480.3 285.3,484C284,487.7 282.1,491.5 280.5,495C278.9,498.5 277.2,502.6 275.8,505C274.3,507.4 273.5,507.8 271.7,509.2C269.9,510.6 267.2,512 265,513.3C262.8,514.5 260.4,515.6 258.3,516.7C256.2,517.8 254.3,518.8 252.5,520C250.7,521.2 249.3,522.7 247.5,524.2C245.7,525.7 244.1,527.8 241.7,529.2C239.3,530.6 236.1,531.5 233.3,532.5C230.5,533.5 227.9,533.8 225,535C222.1,536.2 218.5,537.7 216,540C213.5,542.3 211.1,546.6 210,549C208.9,551.4 209.1,552.3 209.4,554.5C209.7,556.7 210.7,559.9 212,562C213.3,564.1 215.1,565.8 217.3,567.3C219.5,568.8 222.6,570.4 225.3,571.3C228,572.2 231,572.5 233.3,572.7C235.6,572.9 237.4,571.8 239,572.5C240.6,573.2 241.7,575.9 243,577C244.3,578.1 246.4,579.7 247,579C247.6,578.3 246.2,574.3 246.7,572.7C247.2,571.1 249,570.8 250,569.3C251,567.8 252,565.8 252.7,564C253.4,562.2 253.6,560.5 254,558.7C254.4,556.9 254.5,554.5 255.3,553.3C256.1,552.1 257.4,551.4 258.7,551.3C260,551.2 261.8,552.9 263.3,552.7C264.9,552.5 266.6,552.1 268,550C269.4,547.9 266.7,545 272,540C277.3,535 289.5,530 300,520C310.5,510 330,490.3 335,480C340,469.7 331.8,461.4 330,458Z"/>
<ellipse cx="276.1" cy="447.2" rx="5.2" ry="6.5" fill="#ffff78" transform="rotate(-12 276.1 447.2)"/>
<path fill="#ffd000" d="M325,463.5C323.4,460.1 322.5,463.7 320.5,464.7C318.5,465.7 315.5,467.7 313,469.5C310.5,471.3 307.9,473.2 305.5,475.5C303.1,477.8 300.7,480.5 298.5,483C296.3,485.5 294.5,488 292.5,490.5C290.5,493 288.8,495.3 286.5,498C284.2,500.7 281.8,503.5 279,506.5C276.2,509.5 272.6,513.3 270,516C267.4,518.7 265.1,520.4 263.5,522.5C261.9,524.6 260.8,526.6 260.5,528.5C260.2,530.4 260.8,532.5 261.5,534C262.2,535.5 263.1,536.8 264.5,537.3C265.9,537.8 264.1,539.9 270,537C275.9,534.1 290,528.7 300,520C310,511.3 325.8,494.4 330,485C334.2,475.6 326.6,466.9 325,463.5Z"/>
<path fill="#ff9600" d="M303,489.5C301.8,488.6 302.1,491.1 300.8,492.5C299.5,493.9 296.9,496.2 295,497.9C293.1,499.6 291,500.9 289.2,502.5C287.4,504.1 285.9,505.8 284.2,507.5C282.5,509.2 280.8,510.8 279.2,512.5C277.6,514.2 276,515.8 274.6,517.5C273.2,519.2 271.7,521 270.8,522.5C269.9,524 269.4,525.5 269.2,526.7C269,528 269.1,529.1 269.6,530C270.1,530.9 270.3,531.8 272,532C273.7,532.2 276.2,533.8 280,531C283.8,528.2 290.3,520.5 295,515C299.7,509.5 306.7,502.2 308,498C309.3,493.8 304.2,490.4 303,489.5Z"/>
<path fill="#e63c00" d="M289,512.5 287,516.5 285.3,521 283.8,522.5 284,518.8 286,515Z"/>
<ellipse cx="233.4" cy="559.5" rx="3" ry="3.6" fill="#ffd000"/>
<ellipse cx="274.6" cy="566.3" rx="3.4" ry="5.6" fill="#ffff78" transform="rotate(8 274.6 566.3)"/>
<path fill="#0066ff" d="M82.5,728.3 85.8,727.2 90,728.3 92.5,731.7 95,735 93.5,736.5 91.7,737.5 94.2,740 99.2,740.8 100.8,743.3 100,747.5 96.7,749.2 92.5,750.8 88.3,753 84.2,754.2 80.8,756.7 77.5,758.7 74.7,758.3 75,755.8 77.5,752.5 80,748.3 82.5,745 83.3,740 82.5,735 81.7,730.8Z"/>
</g>
<path fill="#fff" stroke="#747474" stroke-width="0.5" d="M316.5,164.5 318,165 320,167 323.5,170 326,171.5 327.5,173.5 327,176 329,178 333,178 334.5,177 335,180 335.3,185 335.5,189 335,191 333,190 331,187 328.5,184 326,181.5 324.5,181 323.2,180.7 324,178.5 323.5,176 321.5,175 320,172.5 318.5,170 317,167Z"/>
<path fill="#fff" stroke="#747474" stroke-width="0.5" d="M327.5,173 329.5,171.5 331,172.5 330,174.5 328,175Z"/>
<path fill="#fff" stroke="#747474" stroke-width="0.5" d="M339.6,212.3 343,210 346.5,208.5 350,209 352.5,210 353.5,212.5 355,213.5 354,215 351.5,215 349.5,216.5 347.5,218 346.5,220.5 345.5,222 344,219 342.5,216.5 341,214.5Z"/>
<path fill="none" stroke="#747474" stroke-width="0.6" stroke-linejoin="round" d="M258.7,76.2 260.8,74.2 266.7,74.2 271.7,73.3 275,72.5 275.3,75.8 274.2,79.2 275,83.3 277.5,88.3 280.8,91.7 281.7,95 284.2,97.5 284.5,101 286.5,102 287.5,97.5 291.7,94.2 293.7,96.3 290.8,99.2 290,102.5 294.2,104.2 298.3,100.8 303.3,102.5 307.5,104.2 311.7,105 315,104.2 315.8,108.3 318.3,111.7 322.5,113.3 323.3,116.7 327.5,115.8 331.7,114.2 331.7,118.3 333.3,123.3 335.8,127.5 337.5,131.7 340,136.7 340.8,141.7 341.7,146.7 339.2,148.5 331,146.2 331.5,149 337.5,150.8 337.5,155.8 341.3,160.7 342.7,163.3 345.3,167.3 348,171.3 350.7,174.7 352,177.3 353.3,180 352,181 349,182.5 347.5,185 349,188 353,189.5 354.5,189.9 350,191 348,193 348.5,196 350,197.5 348.8,198.8 350,200.3 352,201 354,202 357,204 360,205 363,206.5 365,207 367,207.5 369.5,209 371,212 371.5,216 372.5,220 374,222.5 377,222.5 380,220.5 380,217 379,213 377.5,209 376.5,205 377,202 378,199 377,196 376,193 374.5,190 373,186 374,183.5 377,183.5 379,186 381,189 383,192 385.5,195 388,196.5 392.7,196 393.3,198 391.3,200 390,202 392,203.3 393.3,206 394,210 394.7,215.3 394.9,220.7 395.7,226 396.7,230 397.5,236.2 398.8,242.5 404,245 409,249 418,255 428,260 438,264 446,267 456,266.6 463,263 468,257 472,251 480,248 484,244.4 492,245 498,246 500,249 506,253 504,259 501,265 497,271 496,278 495.6,286 494,292 490,298 484,303 480,306 478,310 476,316 475,322 477,325.6 479,327 476,331 473.6,335 472.4,331 472,325 468,323 460,323 452,324 444.7,326.7 439.3,330 435.3,335.3 432.7,340.7 432,344.7 434,349.3 436.7,352.7 439.5,353.6 437.3,358.7 435.3,365.3 432.7,373.3 430.7,378.5 426.2,383.5 421.2,388.8 420,395 413.8,401.2 407.5,408.8 402.5,416.2 396.2,425 391.2,433.8 386.2,440 380,445 373.8,448.8 367.5,453 365.8,454.2 362.5,452.5 361.7,447.5 358.3,445 353.3,443.3 348.3,442.5 347.5,440 343.3,439.7 339.2,438.3 338.3,435 341.7,432.5 345.8,429.2 349.2,425 352.5,419.2 356.7,411.7 360,405 362,396.7 362.3,392 362.5,385 361.2,377.5 358.8,371.2 355,366.2 350,362.5 343.8,360 337.5,357.5 330.3,353.5 327.5,349.4 322.5,346.5 315.8,344.9 310,341.9 306.3,336.9 304.7,331.7 305.8,326.7 310,322.5 315,320 321.2,316.2 328.8,315 333.8,311.2 338.8,305 340,300 341.3,293.3 341.7,286.7 343.3,281.7 345.3,276.7 345,271.7 346.7,268.3 349.2,262.5 347.5,258.3 349.2,253.3 350,248.3 348.3,241.7 346.7,235 343.8,226.7 343,222 341,216 339.5,212 337.5,208 334,201 330,194 328,189 323.3,181.7 317.5,173.3 311.7,162.5 303.3,150 300,145.8 295,138.3 290,131.7 285.8,125.8 280.8,118.3 276.7,114.2 279.2,112.5 280.8,108.3 279.2,102.5 274.2,95.8 268.3,88.3 263.3,81.7Z M260.8,394.7 261.7,400 263.3,405.8 266.7,410 270,411.7 272.7,409.5 275.5,413.3 274.7,420 276,426.7 278.1,433.3 281.3,436.5 285,434.2 287.5,430.8 290,428.3 296.7,425 302.5,421.7 305.8,415 307.5,408.3 311.7,405 314.2,403.3 313.3,408.3 312.5,413.3 315.8,416.7 320,419.2 325,421.7 329.2,425.8 328.3,430 324.2,434.2 320,438.3 315.8,440.8 315,446.7 316.7,450 320,454.2 324.2,460 321.7,464.2 318.3,468.3 313.3,474.7 309.3,481.3 305,488.3 301.7,492.5 299.2,495.4 294.2,499.2 292.9,503.3 290.8,508.3 288.8,513.3 286.7,516.7 285,520.8 282.5,524.2 278.3,526.7 275,529.2 270.8,530.8 267.5,532.9 265,535.4 263.5,538.7 262.7,544 262.7,549.3 263.3,554 266,556.7 270,558.7 274,560 276.7,562 278.3,565.3 277.3,569.3 274.7,572 271.3,573.3 268,573.1 264.7,571.3 261.3,570 256.7,570 251.3,571.3 246,573.1 240.7,575.3 235.3,578 228,582 219,588 216,590 212,594 208.7,597.3 207.7,600 207.3,604 205.3,608 204.3,612 204.7,616.7 205,622 204.7,627.3 202.7,633.3 199.3,636.7 197.5,640 194.5,648 193,655.5 190,663.3 188.3,671.7 190,676.7 183.3,681.7 175,686.7 168.3,693.3 161.7,701.7 156.7,708.3 151.7,713.3 143.3,718.3 135,721.7 126.7,722.7 124.8,721.8 119.8,719.3 113,721 104.5,720.1 101.1,716.8 97.8,711.7 92.7,710 85.9,710.8 80.8,708.3 77.5,703.2 73.2,700.7 68.1,700.7 64.8,703.2 58.8,703.2 52.1,703.6 45.3,704.9 40.2,702.4 36,696.4 32.6,689.7 31.8,681.2 36,672.8 41.1,662.6 45.3,654.1 50.4,646.5 56.3,638.1 62.2,631.3 69,623.7 75.8,616.9 80.8,610.2 87.6,600 90,594.2 93.3,590.8 96.7,585.8 101.7,583.3 108.3,582.5 115,579.2 120.8,574.2 126.7,569.2 133.3,565 140,560.8 147.5,555.8 153.3,549.2 160,543.3 165,538.3 170,533.3 176.7,529.2 183.3,525 186,521 192,514 197,507 202,499 205,490 208,480.5 210.7,473.3 212.5,465.3 213.3,460 217.3,459.5 224,456 230.7,449.3 234.7,442.7 237.3,436.7 238,430 238,421.7 238.7,415 243.3,409.2 250,403.3 256.7,397.5Z M82.5,728.3 85.8,727.2 90,728.3 92.5,731.7 95,735 93.5,736.5 91.7,737.5 94.2,740 99.2,740.8 100.8,743.3 100,747.5 96.7,749.2 92.5,750.8 88.3,753 84.2,754.2 80.8,756.7 77.5,758.7 74.7,758.3 75,755.8 77.5,752.5 80,748.3 82.5,745 83.3,740 82.5,735 81.7,730.8Z M375.3,160.7 377.3,162 378,165.3 380,168 381.3,172 382.7,174.7 381.3,176.7 378.7,174.7 376,172 373.3,170 372.7,166.7 374.4,164.7 374.7,162ZM358.5,198 361,198.3 363.5,197.5 365.5,196.3 367,197.5 367.2,200 366,201.8 363,202.2 360,201.5 358.3,200ZM352.3,198.6 354.3,198.3 354.6,199.8 352.8,200.2Z"/>
<path fill="none" stroke="#747474" stroke-width="0.6" d="M260.8,394.7 C263,393.6 268,393.8 273.8,397.5"/>
<path fill="none" stroke="#747474" stroke-width="2.1" stroke-linecap="round" stroke-linejoin="round" d="M329,428.3 323.3,430.8 318.3,432.5 313.3,433.7 307.5,434.7 304.5,435.3"/>
<path fill="none" stroke="#fff" stroke-width="1.3" stroke-linecap="round" stroke-linejoin="round" d="M329,428.3 323.3,430.8 318.3,432.5 313.3,433.7 307.5,434.7 304.5,435.3"/>
<path fill="none" stroke="#747474" stroke-width="2.0" stroke-linecap="round" stroke-linejoin="round" d="M324.5,423.2 318,426 311.7,429.2 307,431"/>
<path fill="none" stroke="#fff" stroke-width="1.2" stroke-linecap="round" stroke-linejoin="round" d="M324.5,423.2 318,426 311.7,429.2 307,431"/>
<path fill="none" stroke="#747474" stroke-width="2.0" stroke-linecap="round" stroke-linejoin="round" d="M319,418.2 313,420.5 309.2,421.7 304,423.5"/>
<path fill="none" stroke="#fff" stroke-width="1.2" stroke-linecap="round" stroke-linejoin="round" d="M319,418.2 313,420.5 309.2,421.7 304,423.5"/>
<path fill="none" stroke="#747474" stroke-width="1.5" stroke-linecap="round" stroke-linejoin="round" d="M313,420.5 312,425 309,427.5"/>
<path fill="none" stroke="#fff" stroke-width="0.7" stroke-linecap="round" stroke-linejoin="round" d="M313,420.5 312,425 309,427.5"/>
<path fill="none" stroke="#747474" stroke-width="1.5" stroke-linecap="round" stroke-linejoin="round" d="M327,432 322,435.5 318,437.5"/>
<path fill="none" stroke="#fff" stroke-width="0.7" stroke-linecap="round" stroke-linejoin="round" d="M327,432 322,435.5 318,437.5"/>
<path fill="none" stroke="#747474" stroke-width="1.9000000000000001" stroke-linecap="round" stroke-linejoin="round" d="M310.5,406.2 308.5,411 307.5,415 306.5,419.5"/>
<path fill="none" stroke="#fff" stroke-width="1.1" stroke-linecap="round" stroke-linejoin="round" d="M310.5,406.2 308.5,411 307.5,415 306.5,419.5"/>
<path fill="none" stroke="#747474" stroke-width="1.5" stroke-linecap="round" stroke-linejoin="round" d="M326.5,426 322,428 317,429.5"/>
<path fill="none" stroke="#fff" stroke-width="0.7" stroke-linecap="round" stroke-linejoin="round" d="M326.5,426 322,428 317,429.5"/>
<path fill="none" stroke="#747474" stroke-width="1.5" stroke-linecap="round" stroke-linejoin="round" d="M315,412.5 311.5,414.5"/>
<path fill="none" stroke="#fff" stroke-width="0.7" stroke-linecap="round" stroke-linejoin="round" d="M315,412.5 311.5,414.5"/>
<path fill="none" stroke="#747474" stroke-width="1.4" stroke-linecap="round" stroke-linejoin="round" d="M320.5,421 317,424 313.5,427"/>
<path fill="none" stroke="#fff" stroke-width="0.6" stroke-linecap="round" stroke-linejoin="round" d="M320.5,421 317,424 313.5,427"/>
<path fill="none" stroke="#747474" stroke-width="1.4" stroke-linecap="round" stroke-linejoin="round" d="M313,409.5 310.5,414"/>
<path fill="none" stroke="#fff" stroke-width="0.6" stroke-linecap="round" stroke-linejoin="round" d="M313,409.5 310.5,414"/>
<path fill="none" stroke="#747474" stroke-width="1.4" stroke-linecap="round" stroke-linejoin="round" d="M321,437.5 319,440.5"/>
<path fill="none" stroke="#fff" stroke-width="0.6" stroke-linecap="round" stroke-linejoin="round" d="M321,437.5 319,440.5"/>
<path fill="none" stroke="#747474" stroke-width="1.4" stroke-linecap="round" stroke-linejoin="round" d="M316,416.5 312.5,417.5 309.5,416.5"/>
<path fill="none" stroke="#fff" stroke-width="0.6" stroke-linecap="round" stroke-linejoin="round" d="M316,416.5 312.5,417.5 309.5,416.5"/>
<path fill="none" stroke="#747474" stroke-width="1.4" stroke-linecap="round" stroke-linejoin="round" d="M322,420.5 317.5,422.5 314.5,424.5"/>
<path fill="none" stroke="#fff" stroke-width="0.6" stroke-linecap="round" stroke-linejoin="round" d="M322,420.5 317.5,422.5 314.5,424.5"/>
<path fill="#fff" stroke="#747474" stroke-width="0.5" d="M347.6,440.3 L346.6,438.2 L345.3,437 L345,435.3 L345.9,434 L347.4,433.7 L348.8,434.6 L349.2,436.2 L348.6,437.8 L348,438.6Z"/>
<path fill="none" stroke="#747474" stroke-width="0.55" stroke-linejoin="round" d="M82,608.5 84,610.5"/>
<path fill="none" stroke="#747474" stroke-width="0.55" stroke-linejoin="round" d="M78.5,613 80.5,615.5 82.5,615.5"/>
<path fill="none" stroke="#747474" stroke-width="0.55" stroke-linejoin="round" d="M75.8,616.9 78,619.5"/>
<path fill="none" stroke="#747474" stroke-width="0.55" stroke-linejoin="round" d="M72.5,620 74.5,623 77,623.5"/>
<path fill="none" stroke="#747474" stroke-width="0.55" stroke-linejoin="round" d="M69,623.7 71,626.5 73.5,626.5"/>
<path fill="none" stroke="#747474" stroke-width="0.55" stroke-linejoin="round" d="M65.5,627.5 68,630 70.5,630"/>
<path fill="none" stroke="#747474" stroke-width="0.55" stroke-linejoin="round" d="M62.2,631.3 65,634 67.5,634 68.5,637"/>
<path fill="none" stroke="#747474" stroke-width="0.55" stroke-linejoin="round" d="M58.5,635.5 62,638 63.5,641"/>
<path fill="none" stroke="#747474" stroke-width="0.55" stroke-linejoin="round" d="M56.3,638.1 59,642 61.5,643"/>
<path fill="none" stroke="#747474" stroke-width="0.55" stroke-linejoin="round" d="M53,642.5 56,646 59,646.5 60,650"/>
<path fill="none" stroke="#747474" stroke-width="0.55" stroke-linejoin="round" d="M50.4,646.5 53,650 56.5,651 57.5,654.5"/>
<path fill="none" stroke="#747474" stroke-width="0.55" stroke-linejoin="round" d="M47.5,650.5 50.5,654.5 54,656 55,659.5"/>
<path fill="none" stroke="#747474" stroke-width="0.55" stroke-linejoin="round" d="M45.3,654.1 48,658.5 51.5,660.5 52,664"/>
<path fill="none" stroke="#747474" stroke-width="0.55" stroke-linejoin="round" d="M43,658.5 45.5,662.5 49,665 52,665.5"/>
<path fill="none" stroke="#747474" stroke-width="0.55" stroke-linejoin="round" d="M41.1,662.6 43.5,667 47,669.5 50.5,670.5"/>
<path fill="none" stroke="#747474" stroke-width="0.55" stroke-linejoin="round" d="M38.5,667.5 41.5,671 45,673.5 48,677"/>
<path fill="none" stroke="#747474" stroke-width="0.55" stroke-linejoin="round" d="M36,672.8 39,676.5 42.5,679 46,680.5"/>
<path fill="none" stroke="#747474" stroke-width="0.55" stroke-linejoin="round" d="M33.5,677.5 37,681.5 41,684 44.5,685"/>
<path fill="none" stroke="#747474" stroke-width="0.55" stroke-linejoin="round" d="M31.8,681.2 35,685.5 38.5,688 41,691.5"/>
<path fill="none" stroke="#747474" stroke-width="0.55" stroke-linejoin="round" d="M32.6,689.7 36,692 39,695.5 42,696.5"/>
<path fill="none" stroke="#747474" stroke-width="0.55" stroke-linejoin="round" d="M36,696.4 39,698 41.5,700.5"/>
<path fill="none" stroke="#747474" stroke-width="0.55" stroke-linejoin="round" d="M45,661 43,664.5"/>
<path fill="none" stroke="#747474" stroke-width="0.55" stroke-linejoin="round" d="M48.5,664.5 46,668"/>
<path fill="none" stroke="#747474" stroke-width="0.55" stroke-linejoin="round" d="M44,672.5 41.5,675"/>
<path fill="none" stroke="#747474" stroke-width="0.55" stroke-linejoin="round" d="M40,678 37.5,680.5"/>
<path fill="none" stroke="#747474" stroke-width="0.55" stroke-linejoin="round" d="M40,684 37,687.5"/>
<path fill="none" stroke="#747474" stroke-width="0.55" stroke-linejoin="round" d="M37.5,690.5 35,693"/>
<path fill="none" stroke="#747474" stroke-width="0.55" stroke-linejoin="round" d="M54,656 57,657.5"/>
<path fill="none" stroke="#747474" stroke-width="0.55" stroke-linejoin="round" d="M51.5,660.5 55,662.5"/>
<path fill="none" stroke="#747474" stroke-width="0.55" stroke-linejoin="round" d="M47,669.5 48.5,673"/>
<path fill="none" stroke="#747474" stroke-width="0.55" stroke-linejoin="round" d="M42.5,679 43.5,683"/>
<path fill="none" stroke="#747474" stroke-width="0.55" stroke-linejoin="round" d="M49,665 49.5,668.5"/>
<path fill="none" stroke="#747474" stroke-width="1.3" stroke-linecap="round" stroke-linejoin="round" d="M290,131.7 291.7,127.5 294.2,124.8 297,122.5 298.3,120.5 297.5,118.8"/>
<path fill="none" stroke="#fff" stroke-width="0.5" stroke-linecap="round" stroke-linejoin="round" d="M290,131.7 291.7,127.5 294.2,124.8 297,122.5 298.3,120.5 297.5,118.8"/>
<path fill="none" stroke="#747474" stroke-width="0.6" stroke-linejoin="round" d="M294.2,124.8 297,125.5 299.5,124"/>
<path fill="none" stroke="#747474" stroke-width="0.6" stroke-linejoin="round" d="M281.5,119.5 283.5,121 285.3,120"/>
<path fill="none" stroke="#747474" stroke-width="1.5" stroke-linecap="round" stroke-linejoin="round" d="M270.3,77 271.5,79 270.8,81.5 272.6,82 272.5,79.5"/>
<path fill="none" stroke="#fff" stroke-width="0.7" stroke-linecap="round" stroke-linejoin="round" d="M270.3,77 271.5,79 270.8,81.5 272.6,82 272.5,79.5"/>
<path fill="none" stroke="#747474" stroke-width="0.6" stroke-linejoin="round" d="M279.5,90.5 281,93 280,95"/>
<path fill="none" stroke="#747474" stroke-width="1.3" stroke-linecap="round" stroke-linejoin="round" d="M318.5,112 321,115 320,117.5 323,117 324.5,120 322.5,121.5"/>
<path fill="none" stroke="#fff" stroke-width="0.5" stroke-linecap="round" stroke-linejoin="round" d="M318.5,112 321,115 320,117.5 323,117 324.5,120 322.5,121.5"/>
<path fill="none" stroke="#747474" stroke-width="1.3" stroke-linecap="round" stroke-linejoin="round" d="M324.5,120 327,121 328.5,118 330.5,116.5"/>
<path fill="none" stroke="#fff" stroke-width="0.5" stroke-linecap="round" stroke-linejoin="round" d="M324.5,120 327,121 328.5,118 330.5,116.5"/>
<path fill="none" stroke="#747474" stroke-width="0.6" stroke-linejoin="round" d="M315.8,108.3 313.5,109.5 314,111.5"/>
<path fill="none" stroke="#747474" stroke-width="0.6" stroke-linejoin="round" d="M307,104.2 305.5,106.5 306.5,108"/>
<path fill="none" stroke="#747474" stroke-width="0.7" stroke-linejoin="round" d="M327.5,173.5 326,170 325,166.5 326.5,164.8 328.5,166 330,168.5 332.5,168 334,170 336.5,171"/>
<path fill="none" stroke="#747474" stroke-width="0.6" stroke-linejoin="round" d="M330,168.5 329.5,171 331.5,172"/>
<path fill="none" stroke="#747474" stroke-width="0.6" stroke-linejoin="round" d="M333,178 335,175.5 337,176"/>
<path fill="none" stroke="#747474" stroke-width="0.7" stroke-linejoin="round" d="M348.8,198.8 346,198.3 344,199.8 343.2,197.5 344.5,195"/>
<path fill="none" stroke="#747474" stroke-width="0.7" stroke-linejoin="round" d="M344,199.8 345,202 343.2,203.5 344.5,206"/>
<path fill="none" stroke="#747474" stroke-width="0.6" stroke-linejoin="round" d="M346,198.3 346.5,200.8 348,201.5"/>
<path fill="none" stroke="#747474" stroke-width="0.6" stroke-linejoin="round" d="M352.5,202.5 353.5,205 355.5,206 355,208"/>
<path fill="none" stroke="#747474" stroke-width="0.6" stroke-linejoin="round" d="M347.5,218 349,220.5 351,219.5"/>
<path fill="none" stroke="#747474" stroke-width="0.6" stroke-linejoin="round" d="M354,215 356,216.5 355.5,218.5"/>
<path fill="none" stroke="#747474" stroke-width="0.6" stroke-linejoin="round" d="M349,182.5 347,181 348,179.3"/>
<path fill="none" stroke="#747474" stroke-width="0.6" stroke-linejoin="round" d="M347.5,185 346,186.5 347.5,188.3"/>
<path fill="none" stroke="#747474" stroke-width="2.1" stroke-linecap="round" stroke-linejoin="round" d="M396.9,237.5 397.9,242 401,245.6 405,248.6 407,249.6"/>
<path fill="none" stroke="#fff" stroke-width="1.3" stroke-linecap="round" stroke-linejoin="round" d="M396.9,237.5 397.9,242 401,245.6 405,248.6 407,249.6"/>
<path fill="none" stroke="#747474" stroke-width="1.4" stroke-linecap="round" stroke-linejoin="round" d="M349.2,253.3 351.3,252 352.5,250"/>
<path fill="none" stroke="#fff" stroke-width="0.6" stroke-linecap="round" stroke-linejoin="round" d="M349.2,253.3 351.3,252 352.5,250"/>
<path fill="none" stroke="#747474" stroke-width="1.3" stroke-linecap="round" stroke-linejoin="round" d="M347.5,258.3 349.5,259 350.5,257.5"/>
<path fill="none" stroke="#fff" stroke-width="0.5" stroke-linecap="round" stroke-linejoin="round" d="M347.5,258.3 349.5,259 350.5,257.5"/>
<path fill="none" stroke="#747474" stroke-width="1.6" stroke-linecap="round" stroke-linejoin="round" d="M345,271.7 347,270 348.8,270.5 349.2,268.5"/>
<path fill="none" stroke="#fff" stroke-width="0.8" stroke-linecap="round" stroke-linejoin="round" d="M345,271.7 347,270 348.8,270.5 349.2,268.5"/>
<ellipse cx="395" cy="191.5" rx="3.2" ry="1.1" transform="rotate(12 395 191.5)" fill="#ffd000" stroke="#747474" stroke-width="0.45"/>
<circle cx="392" cy="182" r="0.7" fill="#ffd000" stroke="#747474" stroke-width="0.45"/>
<circle cx="404" cy="209.6" r="0.7" fill="#ff9600" stroke="#747474" stroke-width="0.45"/>
<circle cx="398" cy="214.7" r="0.7" fill="#ff9600" stroke="#747474" stroke-width="0.45"/>
<circle cx="410.8" cy="227.3" r="1.0" fill="#ff9600" stroke="#747474" stroke-width="0.45"/>
<circle cx="417.4" cy="245.4" r="0.8" fill="#ff9600" stroke="#747474" stroke-width="0.45"/>
<circle cx="449.5" cy="240.5" r="0.5" fill="#999" stroke="#747474" stroke-width="0.45"/>
<circle cx="348.5" cy="130" r="0.6" fill="#ff9600" stroke="#747474" stroke-width="0.45"/>
<circle cx="349.5" cy="150.5" r="0.8" fill="#ff9600" stroke="#747474" stroke-width="0.45"/>
<circle cx="351" cy="152.5" r="0.5" fill="#ff9600" stroke="#747474" stroke-width="0.45"/>
<circle cx="365" cy="153" r="0.5" fill="#ffd000" stroke="#747474" stroke-width="0.45"/>
<circle cx="234.5" cy="60.5" r="0.5" fill="#999" stroke="#747474" stroke-width="0.45"/>
<circle cx="236.5" cy="59.5" r="0.4" fill="#999" stroke="#747474" stroke-width="0.45"/>
<circle cx="78.3" cy="730.8" r="0.6" fill="#0066ff" stroke="#747474" stroke-width="0.45"/>
<circle cx="50.8" cy="722.5" r="0.4" fill="#999" stroke="#747474" stroke-width="0.45"/>
<path fill="none" stroke="#747474" stroke-width="0.6" stroke-linejoin="round" d="M108,729.5 109.5,730.5 111,729.5 110,731"/>
<path fill="none" stroke="#747474" stroke-width="1.0" stroke-linejoin="round" d="M350,414.5 351.6,412"/>
<path fill="none" stroke="#747474" stroke-width="0.8" stroke-linejoin="round" d="M347.8,426.2 348.4,425.2"/>
<ellipse cx="362.9" cy="168.7" rx="1.6" ry="1.6" fill="#ffd000"/>
</svg>
</body>
</html>
